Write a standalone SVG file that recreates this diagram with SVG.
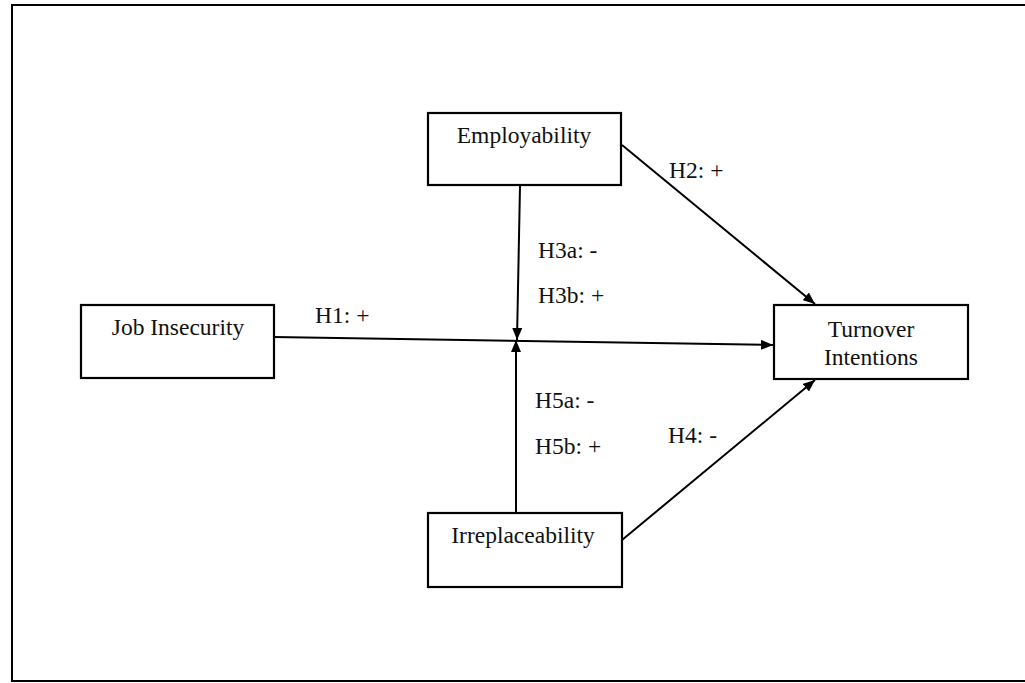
<svg xmlns="http://www.w3.org/2000/svg" width="1025" height="683" viewBox="0 0 1025 683">
<style>
.box{fill:#fff;stroke:#000;stroke-width:2.2}
.t{font-family:"Liberation Serif","Times New Roman",serif;font-size:23.5px;fill:#111}
.c{stroke:#000;stroke-width:2;fill:none}
</style>
<defs>
<marker id="ah" viewBox="0 0 12 10" refX="12" refY="5" markerWidth="12" markerHeight="10" markerUnits="userSpaceOnUse" orient="auto">
<path d="M0,0 L12,5 L0,10 z" fill="#000"/>
</marker>
</defs>
<rect width="1025" height="683" fill="#fff"/>
<rect x="12" y="5" width="1030" height="676" fill="none" stroke="#000" stroke-width="2"/>
<g id="connectors">
<line class="c" x1="274" y1="337" x2="773" y2="345" marker-end="url(#ah)"/>
<line class="c" x1="520" y1="186" x2="517" y2="340" marker-end="url(#ah)"/>
<line class="c" x1="516" y1="513" x2="516" y2="340" marker-end="url(#ah)"/>
<line class="c" x1="622" y1="145" x2="815" y2="304" marker-end="url(#ah)"/>
<line class="c" x1="622" y1="540" x2="815" y2="380" marker-end="url(#ah)"/>
</g>
<g id="labels">
<text class="t" x="315" y="323">H1: +</text>
<text class="t" x="669" y="178">H2: +</text>
<text class="t" x="538" y="258">H3a: -</text>
<text class="t" x="538" y="303">H3b: +</text>
<text class="t" x="668" y="443">H4: -</text>
<text class="t" x="535" y="408">H5a: -</text>
<text class="t" x="535" y="454">H5b: +</text>
</g>
<g id="employability">
<rect class="box" x="428" y="113" width="193" height="72"/>
<text class="t" x="524" y="143" text-anchor="middle">Employability</text>
</g>
<g id="job-insecurity">
<rect class="box" x="81" y="305" width="193" height="73"/>
<text class="t" x="178" y="335" text-anchor="middle">Job Insecurity</text>
</g>
<g id="irreplaceability">
<rect class="box" x="428" y="513" width="194" height="74"/>
<text class="t" x="523" y="543" text-anchor="middle">Irreplaceability</text>
</g>
<g id="turnover-intentions">
<rect class="box" x="774" y="305" width="194" height="74"/>
<text class="t" x="871" y="337" text-anchor="middle">Turnover</text>
<text class="t" x="871" y="365" text-anchor="middle">Intentions</text>
</g>
</svg>
